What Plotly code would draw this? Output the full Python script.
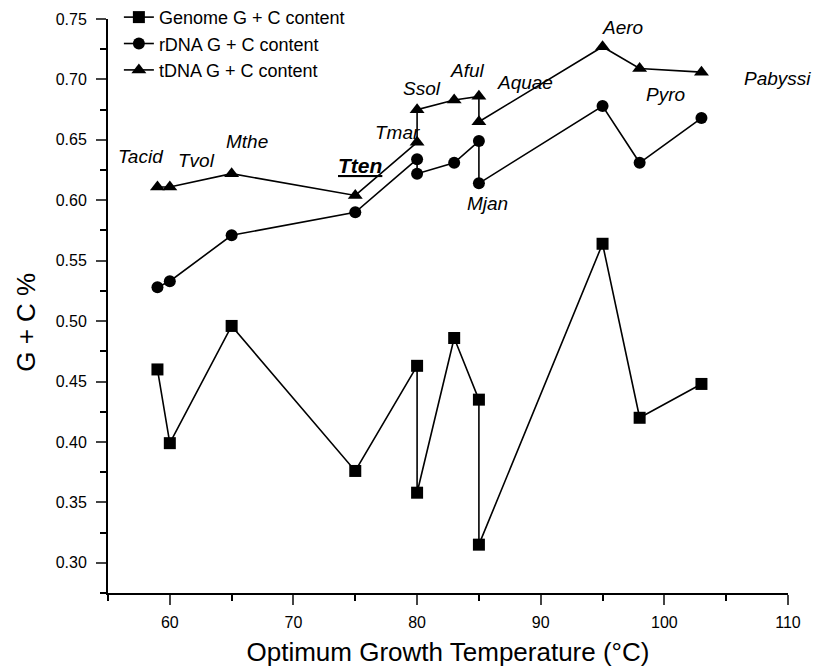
import plotly.graph_objects as go

# Organisms in plotting order (optimum growth temperature, °C)
organisms = ["Tacid", "Tvol", "Mthe", "Tten", "Tmar", "Ssol", "Aful", "Aquae", "Mjan", "Aero", "Pyro", "Pabyssi"]
temperature = [59, 60, 65, 75, 80, 80, 83, 85, 85, 95, 98, 103]

genome_gc = [0.460, 0.399, 0.496, 0.376, 0.463, 0.358, 0.486, 0.435, 0.315, 0.564, 0.420, 0.448]
rdna_gc = [0.528, 0.533, 0.571, 0.590, 0.634, 0.622, 0.631, 0.649, 0.614, 0.678, 0.631, 0.668]
tdna_gc = [0.611, 0.611, 0.622, 0.604, 0.648, 0.675, 0.683, 0.686, 0.665, 0.727, 0.709, 0.706]

x_ticks = [60, 70, 80, 90, 100, 110]
y_ticks = [0.30, 0.35, 0.40, 0.45, 0.50, 0.55, 0.60, 0.65, 0.70, 0.75]

FONT = "Liberation Sans, Arial, sans-serif"

fig = go.Figure()
series = [
    ("Genome G + C content", genome_gc, "square", 12),
    ("rDNA G + C content", rdna_gc, "circle", 12),
    ("tDNA G + C content", tdna_gc, "triangle-up", 13),
]
for name, vals, sym, size in series:
    fig.add_trace(go.Scatter(
        x=temperature, y=vals, name=name, mode="lines+markers",
        line=dict(color="black", width=1.6),
        marker=dict(symbol=sym, size=size, color="black"),
    ))

# Label offsets (pixels) relative to the tDNA point (or rDNA for Mjan)
label_offsets = {
    "Tacid": (-16, 30), "Tvol": (27, 26), "Mthe": (15, 32), "Tten": (5, 30),
    "Tmar": (-20, 10), "Ssol": (5, 21), "Aful": (13, 29), "Aquae": (46, 14),
    "Mjan": (9, -20), "Aero": (20, 19), "Pyro": (26, -26), "Pabyssi": (76, -6),
}
for i, org in enumerate(organisms):
    dx, dy = label_offsets[org]
    yref_val = rdna_gc[i] if org == "Mjan" else tdna_gc[i]
    if org == "Tten":
        text = "<b><i><u>Tten</u></i></b>"
        size = 21
    else:
        text = "<i>" + org + "</i>"
        size = 19
    fig.add_annotation(
        x=temperature[i], y=yref_val, text=text, showarrow=False,
        xshift=dx, yshift=dy, font=dict(family=FONT, size=size, color="black"),
    )

# Y-axis title
fig.add_annotation(
    xref="paper", yref="paper", x=-0.121, y=0.472, xanchor="center", yanchor="middle",
    text="G + C %", textangle=-90,
    showarrow=False, font=dict(family=FONT, size=26, color="black"),
)

# The page body adds an 8px offset; the figure is sized so the plot area
# lands at x 108..788, y 19..593 in the 827x668 window.
fig.update_layout(
    width=819, height=660,
    margin=dict(l=100, r=39, t=11, b=75, autoexpand=False),
    paper_bgcolor="white", plot_bgcolor="white",
    font=dict(family=FONT, color="black"),
    showlegend=True,
    legend=dict(x=0.016, xref="paper", y=1.035, yref="paper", xanchor="left", yanchor="top",
                font=dict(family=FONT, size=18, color="black"),
                bgcolor="rgba(0,0,0,0)", tracegroupgap=0),
)
fig.update_xaxes(
    range=[55, 110], tickvals=x_ticks, ticks="outside", ticklen=10, tickwidth=2,
    showline=True, linecolor="black", linewidth=2, showgrid=False, zeroline=False,
    automargin=False, ticklabelstandoff=4,
    tickfont=dict(family=FONT, size=16, color="black"),
    minor=dict(dtick=5, tick0=55, ticks="outside", ticklen=6, tickwidth=2, tickcolor="black"),
    title=dict(text="Optimum Growth Temperature (°C)", font=dict(family=FONT, size=26, color="black"), standoff=13),
)
fig.update_yaxes(
    range=[0.275, 0.75], tickvals=y_ticks, tickformat=".2f", ticks="outside", ticklen=10, tickwidth=2,
    showline=True, linecolor="black", linewidth=2, showgrid=False, zeroline=False,
    automargin=False, ticklabelstandoff=6,
    tickfont=dict(family=FONT, size=16, color="black"),
    minor=dict(dtick=0.025, tick0=0.275, ticks="outside", ticklen=6, tickwidth=2, tickcolor="black"),
)

fig.write_html("out.html")
